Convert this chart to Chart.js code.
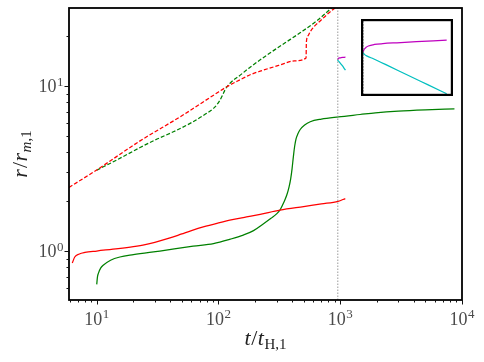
<!DOCTYPE html>
<html><head><meta charset="utf-8">
<script src="https://cdn.jsdelivr.net/npm/chart.js@4"></script>
<style>
html,body{margin:0;padding:0;background:#fff}
#wrap{position:relative;width:484px;height:362px;background:#fff}
#main{position:absolute;left:0;top:0}
#inset{position:absolute;left:361px;top:19px}
</style></head>
<body><div id="wrap"><canvas id="main" width="484" height="362"></canvas><canvas id="inset" width="92" height="77"></canvas></div>
<script>
// ---- data (t / t_H,1 , r / r_m,1) ----
const redSolidT  = [6.3, 6.6, 7.2, 8, 10, 15, 20, 25, 30, 40, 50, 60, 75, 100, 130, 170, 220, 320, 500, 700, 960, 1100];
const redSolidR  = [0.845, 0.92, 0.96, 0.98, 1.0, 1.035, 1.065, 1.095, 1.13, 1.20, 1.27, 1.33, 1.40, 1.48, 1.55, 1.61, 1.67, 1.77, 1.86, 1.93, 2.0, 2.08];
const greenSolidT = [10, 10.15, 10.3, 10.8, 11.3, 13, 15.5, 20, 33, 62, 91, 125, 160, 194, 230, 270, 300, 321, 345, 365, 380, 392, 402, 412, 422, 434, 450, 469, 510, 567, 700, 966, 1455, 1945, 3000, 5000, 8670];
const greenSolidR = [0.628, 0.70, 0.73, 0.79, 0.82, 0.88, 0.92, 0.95, 1.0, 1.07, 1.11, 1.18, 1.25, 1.33, 1.45, 1.58, 1.68, 1.78, 1.98, 2.2, 2.45, 2.75, 3.15, 3.72, 4.3, 4.8, 5.15, 5.45, 5.8, 6.07, 6.3, 6.5, 6.72, 6.88, 7.05, 7.18, 7.28];
const redDashT = [5.92, 10, 22.7, 50, 100, 117, 150, 182, 220, 320, 420, 524, 527, 545, 566, 620, 684, 800, 908, 960];
const redDashR = [2.43, 3.10, 4.65, 6.6, 9.2, 9.9, 10.9, 11.7, 12.3, 13.4, 14.2, 14.8, 18.4, 20.2, 21.3, 23.2, 24.8, 27.6, 29.8, 31];
const greenDashT = [10, 15, 22.7, 30, 42.6, 60, 80, 91, 97, 103, 108, 113, 124.5, 150, 182, 250, 350, 468, 650, 853, 960];
const greenDashR = [3.09, 3.6, 4.24, 4.7, 5.28, 6.0, 6.83, 7.32, 7.7, 8.22, 8.8, 9.46, 10.4, 11.6, 13.0, 15.4, 18.2, 21.0, 25.0, 29.8, 32];
const magentaT = [955, 955.5, 957, 960, 964, 975, 990, 1015, 1050, 1080, 1104];
const magentaR = [14.40, 14.47, 14.55, 14.63, 14.69, 14.76, 14.80, 14.84, 14.89, 14.93, 14.96];
const cyanT = [955, 955.5, 957, 962, 973, 1000, 1032, 1070, 1104];
const cyanR = [14.40, 14.35, 14.30, 14.22, 14.10, 13.77, 13.37, 12.90, 12.48];
const vLineT = 955;
const xTickExps = [1, 2, 3, 4];
const yTickExps = [0, 1];
const minorMult = [2, 3, 4, 5, 6, 7, 8, 9];

const xMin = 5.92, xMax = 10000, yMin = 0.505, yMax = 29.7;

const pts = (T, R) => T.map((t, i) => ({x: t, y: R[i]}));
function line(T, R, color, dash) {
  return {data: pts(T, R), borderColor: color, borderWidth: 1.25, borderDash: dash || [],
          pointRadius: 0, fill: false, cubicInterpolationMode: 'monotone'};
}
function vline(x, y0, y1) {
  return {data: [{x: x, y: y0}, {x: x, y: y1}], borderColor: 'rgba(150,150,150,0.95)', borderWidth: 1,
          borderDash: [1.5, 1.5], pointRadius: 0, fill: false};
}

const SERIF = '"Liberation Serif", "DejaVu Serif", serif';
const LABEL_COLOR = '#4a4a4a';

function drawPow(ctx, exp, x, y, align) {
  ctx.font = '18px ' + SERIF;
  const w1 = ctx.measureText('10').width;
  ctx.font = '13px ' + SERIF;
  const w2 = ctx.measureText(String(exp)).width;
  const total = w1 + w2 + 0.5;
  const start = align === 'center' ? x - total / 2 : x - total;
  ctx.fillStyle = LABEL_COLOR;
  ctx.textAlign = 'left';
  ctx.textBaseline = 'alphabetic';
  ctx.font = '18px ' + SERIF;
  ctx.fillText('10', start, y);
  ctx.font = '13px ' + SERIF;
  ctx.fillText(String(exp), start + w1 + 0.5, y - 6.5);
}

function drawParts(ctx, parts, x, y) {
  let cx = x;
  for (const p of parts) {
    ctx.font = p[1] + ' ' + p[2] + 'px ' + SERIF;
    ctx.fillText(p[0], cx, y + p[3]);
    cx += ctx.measureText(p[0]).width + (p[4] || 0);
  }
}
function partsWidth(ctx, parts) {
  let w = 0;
  for (const p of parts) { ctx.font = p[1] + ' ' + p[2] + 'px ' + SERIF; w += ctx.measureText(p[0]).width + (p[4] || 0); }
  return w;
}

const mainDecor = {
  id: 'mainDecor',
  afterDraw(chart) {
    const ctx = chart.ctx, a = chart.chartArea;
    const xs = chart.scales.x, ys = chart.scales.y;
    ctx.save();
    ctx.strokeStyle = '#000'; ctx.lineWidth = 1.8;
    ctx.strokeRect(a.left, a.top, a.right - a.left, a.bottom - a.top);
    ctx.lineWidth = 1; ctx.strokeStyle = '#111';
    ctx.beginPath();
    for (let d = 0; d <= 4; d++) {
      for (const m of [1].concat(minorMult)) {
        const v = m * Math.pow(10, d);
        if (v < xMin - 1e-9 || v > xMax + 1e-9) continue;
        const px = Math.round(xs.getPixelForValue(v)) + 0.5;
        const len = m === 1 ? 4.5 : 2.5;
        ctx.moveTo(px, a.bottom); ctx.lineTo(px, a.bottom + len);
      }
    }
    for (let d = -1; d <= 1; d++) {
      for (const m of [1].concat(minorMult)) {
        const v = m * Math.pow(10, d);
        if (v < yMin - 1e-9 || v > yMax + 1e-9) continue;
        const py = Math.round(ys.getPixelForValue(v)) + 0.5;
        const len = m === 1 ? 4.5 : 2.5;
        ctx.moveTo(a.left, py); ctx.lineTo(a.left - len, py);
      }
    }
    ctx.stroke();
    for (const e of xTickExps) drawPow(ctx, e, xs.getPixelForValue(Math.pow(10, e)), a.bottom + 24.5, 'center');
    for (const e of yTickExps) drawPow(ctx, e, a.left - 5.5, ys.getPixelForValue(Math.pow(10, e)) + 6.3, 'right');
    ctx.fillStyle = '#222'; ctx.textAlign = 'left'; ctx.textBaseline = 'alphabetic';
    const xParts = [['t', 'italic', 22, 0, 0.5], ['/', 'normal', 22, 0, 0.5], ['t', 'italic', 22, 0, 0.5], ['H,1', 'normal', 15, 4]];
    const xw = partsWidth(ctx, xParts);
    drawParts(ctx, xParts, (a.left + a.right) / 2 - xw / 2, 345);
    const yParts = [['r', 'italic', 22, 0, 1], ['/', 'normal', 22, 0, 0.5], ['r', 'italic', 22, 0, 0.5], ['m', 'italic', 15, 4], [',1', 'normal', 15, 4]];
    const yw = partsWidth(ctx, yParts);
    ctx.translate(27, (a.top + a.bottom) / 2);
    ctx.rotate(-Math.PI / 2);
    drawParts(ctx, yParts, -yw / 2, 0);
    ctx.restore();
  }
};

new Chart(document.getElementById('main'), {
  type: 'line',
  data: {datasets: [
    vline(vLineT, yMin, yMax),
    line(redDashT, redDashR, '#ff0000', [4, 2]),
    line(greenDashT, greenDashR, '#008000', [4, 2]),
    line(redSolidT, redSolidR, '#ff0000'),
    line(greenSolidT, greenSolidR, '#008000'),
    line(magentaT, magentaR, '#bf00bf'),
    line(cyanT, cyanR, '#00bfbf')
  ]},
  options: {
    responsive: false, animation: false, devicePixelRatio: 1,
    layout: {padding: {left: 69, right: 22, top: 8, bottom: 62}},
    plugins: {legend: {display: false}, tooltip: {enabled: false}},
    scales: {
      x: {type: 'logarithmic', min: xMin, max: xMax, display: false},
      y: {type: 'logarithmic', min: yMin, max: yMax, display: false}
    }
  },
  plugins: [mainDecor]
});

// ---- inset (zoom on the magenta / cyan branches) ----
const insetFrame = {
  id: 'insetFrame',
  afterDraw(chart) {
    const ctx = chart.ctx;
    ctx.save();
    ctx.strokeStyle = '#000'; ctx.lineWidth = 2.2;
    ctx.strokeRect(1.1, 1.1, chart.width - 2.2, chart.height - 2.2);
    ctx.restore();
  }
};
new Chart(document.getElementById('inset'), {
  type: 'line',
  data: {datasets: [
    vline(vLineT, 12.3, 16),
    line(magentaT, magentaR, '#bf00bf'),
    line(cyanT, cyanR, '#00bfbf')
  ]},
  options: {
    responsive: false, animation: false, devicePixelRatio: 1,
    layout: {padding: 0},
    plugins: {legend: {display: false}, tooltip: {enabled: false}},
    scales: {
      x: {type: 'linear', min: 950.9, max: 1115.3, display: false},
      y: {type: 'linear', min: 12.375, max: 15.94, display: false}
    }
  },
  plugins: [insetFrame]
});
</script>
</body></html>
